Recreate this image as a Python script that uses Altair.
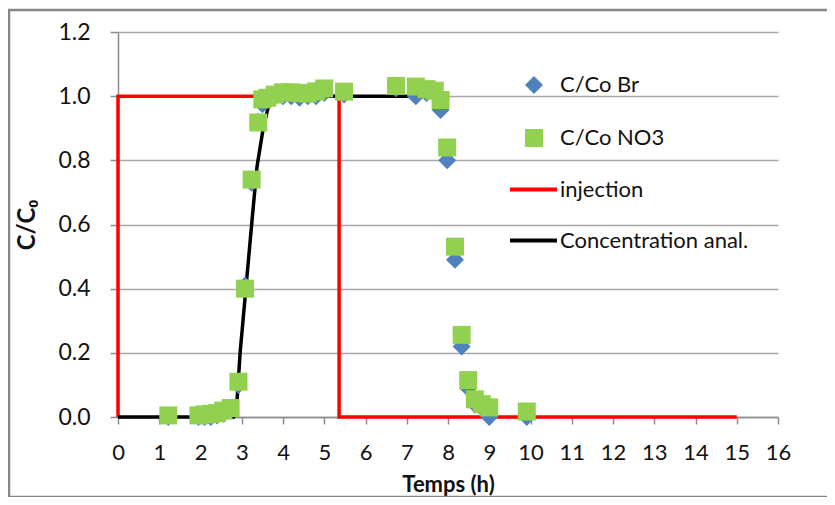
import altair as alt
import pandas as pd

# ---------------- data ----------------
time_h = [1.22, 1.95, 2.10, 2.25, 2.40, 2.55, 2.73, 2.92, 3.08, 3.24, 3.40, 3.50,
          3.62, 3.80, 4.00, 4.20, 4.40, 4.60, 4.80, 5.00, 5.48, 6.74, 7.22, 7.48,
          7.68, 7.82, 7.98, 8.17, 8.33, 8.49, 8.65, 8.82, 9.00, 9.91]
cc_no3 = [0.005, 0.005, 0.008, 0.010, 0.012, 0.020, 0.028, 0.110, 0.400, 0.740, 0.918, 0.990,
          0.995, 1.005, 1.012, 1.012, 1.010, 1.008, 1.015, 1.024, 1.014, 1.032, 1.030, 1.022,
          1.017, 0.988, 0.840, 0.531, 0.256, 0.115, 0.055, 0.040, 0.030, 0.017]
cc_br = [0.000, 0.000, 0.000, 0.000, 0.005, 0.010, 0.020, 0.100, 0.410, 0.730, 0.920, 0.975,
         0.990, 1.000, 1.000, 1.000, 0.995, 1.000, 1.000, 1.010, 1.005, 1.025, 1.000, 1.010,
         1.010, 0.957, 0.800, 0.490, 0.220, 0.090, 0.040, 0.030, 0.000, 0.000]

inj_t = [0, 0, 5.36, 5.36, 15]
inj_c = [0, 1, 1, 0, 0]

ana_t = [0, 2.80, 2.88, 2.96, 3.10, 3.24, 3.37, 3.52, 3.64, 3.80, 4.00, 7.50]
ana_c = [0, 0.00, 0.04, 0.20, 0.40, 0.60, 0.78, 0.90, 0.965, 0.99, 1.00, 1.00]

series_pts = ["C/Co Br", "C/Co NO3"]
series_lines = ["injection", "Concentration anal."]
x_ticks = list(range(0, 17))
y_ticks = [0.0, 0.2, 0.4, 0.6, 0.8, 1.0, 1.2]

# ---------------- tables ----------------
pts = pd.DataFrame({
    "t": time_h + time_h,
    "c": cc_br + cc_no3,
    "series": [series_pts[0]] * len(time_h) + [series_pts[1]] * len(time_h),
    "i": list(range(2 * len(time_h))),
})
inj = pd.DataFrame({"t": inj_t, "c": inj_c, "series": series_lines[0], "i": range(len(inj_t))})
ana = pd.DataFrame({"t": ana_t, "c": ana_c, "series": series_lines[1], "i": range(len(ana_t))})

FONT = "Lato"
GRAY = "#8C8C8C"

x_scale = alt.Scale(domain=[0, 16], nice=False, zero=False)
y_scale = alt.Scale(domain=[0, 1.2], nice=False)

x_enc = alt.X("t:Q", scale=x_scale, axis=alt.Axis(
    values=x_ticks, format="d", title="Temps (h)", grid=False, labelFlush=False,
    domainColor=GRAY, domainWidth=1.5, tickColor=GRAY, tickWidth=1.5, tickSize=7,
    labelFont=FONT, labelFontSize=22, labelColor="#111111", labelPadding=18,
    titleFont=FONT, titleFontSize=22, titleFontWeight="bold", titleColor="#111111",
    titlePadding=11))
y_enc = alt.Y("c:Q", scale=y_scale, axis=alt.Axis(
    values=y_ticks, format=".1f", title="C/C₀", grid=True, labelFlush=False,
    gridColor="#A8A8A8", gridWidth=1.5,
    domainColor=GRAY, domainWidth=1.5, tickColor=GRAY, tickWidth=1.5, tickSize=8,
    labelFont=FONT, labelFontSize=23, labelColor="#111111", labelPadding=20,
    titleFont=FONT, titleFontSize=24, titleFontWeight="bold", titleColor="#111111",
    titlePadding=18))

stroke_scale = alt.Scale(domain=series_lines, range=["#FF0000", "#000000"])
line_legend = alt.Legend(title=None, orient="none", legendX=390, legendY=132,
                         symbolType="stroke", symbolSize=2209, symbolStrokeWidth=4,
                         labelFont=FONT, labelFontSize=22, labelColor="#111111",
                         labelOffset=1, rowPadding=14, padding=0, labelLimit=400)

inj_layer = alt.Chart(inj).mark_line(strokeWidth=3.5).encode(
    x=x_enc, y=y_enc, order="i:Q",
    stroke=alt.Stroke("series:N", scale=stroke_scale, legend=line_legend))
ana_layer = alt.Chart(ana).mark_line(strokeWidth=3.5).encode(
    x=x_enc, y=y_enc, order="i:Q",
    stroke=alt.Stroke("series:N", scale=stroke_scale, legend=line_legend))

pt_legend = alt.Legend(title=None, orient="none", legendX=405, legendY=42,
                       symbolSize=324, symbolStrokeWidth=0,
                       labelFont=FONT, labelFontSize=22, labelColor="#111111",
                       labelOffset=15, rowPadding=31, padding=0, labelLimit=400)
pt_layer = alt.Chart(pts).mark_point(filled=True, size=324, opacity=1, strokeWidth=0).encode(
    x=x_enc, y=y_enc, order="i:Q",
    fill=alt.Fill("series:N", scale=alt.Scale(domain=series_pts, range=["#4F81BD", "#92D050"]),
                  legend=pt_legend),
    shape=alt.Shape("series:N", scale=alt.Scale(domain=series_pts, range=["diamond", "square"]),
                    legend=pt_legend))

border = alt.Chart(pd.DataFrame({"k": [0]})).mark_rect(
    fill="transparent", stroke="#868686", strokeWidth=2.5).encode(
    x=alt.value(-109), x2=alt.value(740), y=alt.value(-22), y2=alt.value(465))

chart = alt.layer(border, inj_layer, ana_layer, pt_layer).properties(
    width=660, height=385,
    padding={"left": 110, "top": 24, "right": 49, "bottom": 80},
    autosize=alt.AutoSizeParams(type="none"),
).configure_view(stroke="transparent").resolve_scale(x="shared", y="shared")

chart.save("out.html", embed_options={"renderer": "svg", "actions": False})
